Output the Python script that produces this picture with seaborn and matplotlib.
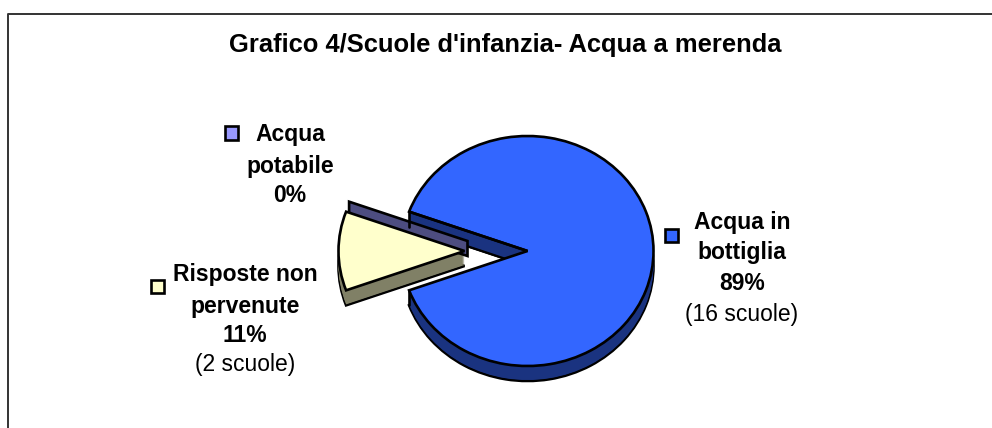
import numpy as np
import matplotlib
matplotlib.use("Agg")
import matplotlib.pyplot as plt
import seaborn as sns

# --- Datos ---
categorie = ["Acqua in bottiglia", "Acqua potabile", "Risposte non pervenute"]
scuole = [16, 0, 2]
percentuali = ["89%", "0%", "11%"]
note = ["(16 scuole)", "", "(2 scuole)"]
titolo = "Grafico 4/Scuole d'infanzia- Acqua a merenda"

colori = ["#3366FF", "#9999FF", "#FFFFCC"]
colori_lato = ["#1A3380", "#4D4D80", "#808066"]

W, H = 992, 428
CX, CY = 527.5, 251    # centro torta (pixel)
RX, RY = 126, 115      # raggi ellisse
DEPTH = 15             # spessore 3D
ESPLOSO = 0.5
LW = 1.9

sns.set_theme(style="white")
plt.rcParams["font.family"] = ["Liberation Sans", "DejaVu Sans"]

fig = plt.figure(figsize=(W / 100, H / 100), dpi=100)
ax = fig.add_axes([0, 0, 1, 1])

start = 180 + 360 * scuole[2] / sum(scuole) / 2
esplodi = [0, 0, ESPLOSO]


def fetta(dy, col, edge, lw=LW, z=1):
    wedges, _ = ax.pie(scuole, explode=esplodi, colors=col, startangle=start,
                       center=(0, -dy / RY), radius=1, frame=False,
                       wedgeprops={"edgecolor": edge, "linewidth": lw})
    for w in wedges:
        w.set_zorder(z)
    return wedges


# --- Lati 3D: copie impilate, poi faccia superiore ---
for d in range(DEPTH, 0, -1):
    fetta(d, colori_lato, "black" if d == DEPTH else "none", z=2)

# parete della fetta allo 0%
ang0 = np.deg2rad(start + 360 * scuole[0] / sum(scuole))
off = np.array([-60 / RX, 10 / RY])
punta = off
bordo = off + np.array([np.cos(ang0), np.sin(ang0)])
dz = DEPTH / RY
ax.fill([punta[0], bordo[0], bordo[0], punta[0]],
        [punta[1], bordo[1], bordo[1] - dz, punta[1] - dz],
        facecolor=colori_lato[1], edgecolor="black", linewidth=LW, zorder=3)

# --- Faccia superiore ---
top = fetta(0, colori, "black", z=4)
top[2].set_zorder(5)

# spigoli verticali dove la torta è tagliata
for a in [start, start + 360 * scuole[0] / sum(scuole)]:
    x, y = np.cos(np.deg2rad(a)), np.sin(np.deg2rad(a))
    ax.plot([x, x], [y, y - dz], color="black", lw=LW, zorder=3.5)

ax.set_xlim(-CX / RX, (W - CX) / RX)
ax.set_ylim(-(H - CY) / RY, CY / RY)
ax.set_aspect("auto")
ax.axis("off")


def testo(x, y, s, **kw):
    fig.text(x / W, 1 - y / H, s, ha="center", va="center", color="black", **kw)


def quadrato(x, y, col):
    fig.add_artist(plt.Rectangle(((x - 6.5) / W, 1 - (y + 6.5) / H), 13 / W, 13 / H,
                                 facecolor=col, edgecolor="black", linewidth=LW,
                                 transform=fig.transFigure))


# --- Titolo e cornice ---
testo(505.5, 45, titolo, fontsize=18.4, fontweight="bold")
fig.add_artist(plt.Line2D([7.5 / W, 7.5 / W, 1],
                          [0, 1 - 14 / H, 1 - 14 / H],
                          color="#333333", lw=1.4, transform=fig.transFigure))

# --- Etichette ---
FS = 16.5
testo(742, 222.5, "Acqua in", fontsize=FS, fontweight="bold")
testo(742, 252, "bottiglia", fontsize=FS, fontweight="bold")
testo(742, 283, percentuali[0], fontsize=FS, fontweight="bold")
testo(742, 315, note[0], fontsize=FS)
quadrato(671, 235, colori[0])

testo(290, 135, "Acqua", fontsize=FS, fontweight="bold")
testo(290, 166, "potabile", fontsize=FS, fontweight="bold")
testo(290, 196, percentuali[1], fontsize=FS, fontweight="bold")
quadrato(231, 133, colori[1])

testo(245, 275, "Risposte non", fontsize=FS, fontweight="bold")
testo(245, 306, "pervenute", fontsize=FS, fontweight="bold")
testo(245, 336, percentuali[2], fontsize=FS, fontweight="bold")
testo(245, 365, note[2], fontsize=FS)
quadrato(157, 286, colori[2])

fig.savefig("out.png", dpi=100, facecolor="white")
